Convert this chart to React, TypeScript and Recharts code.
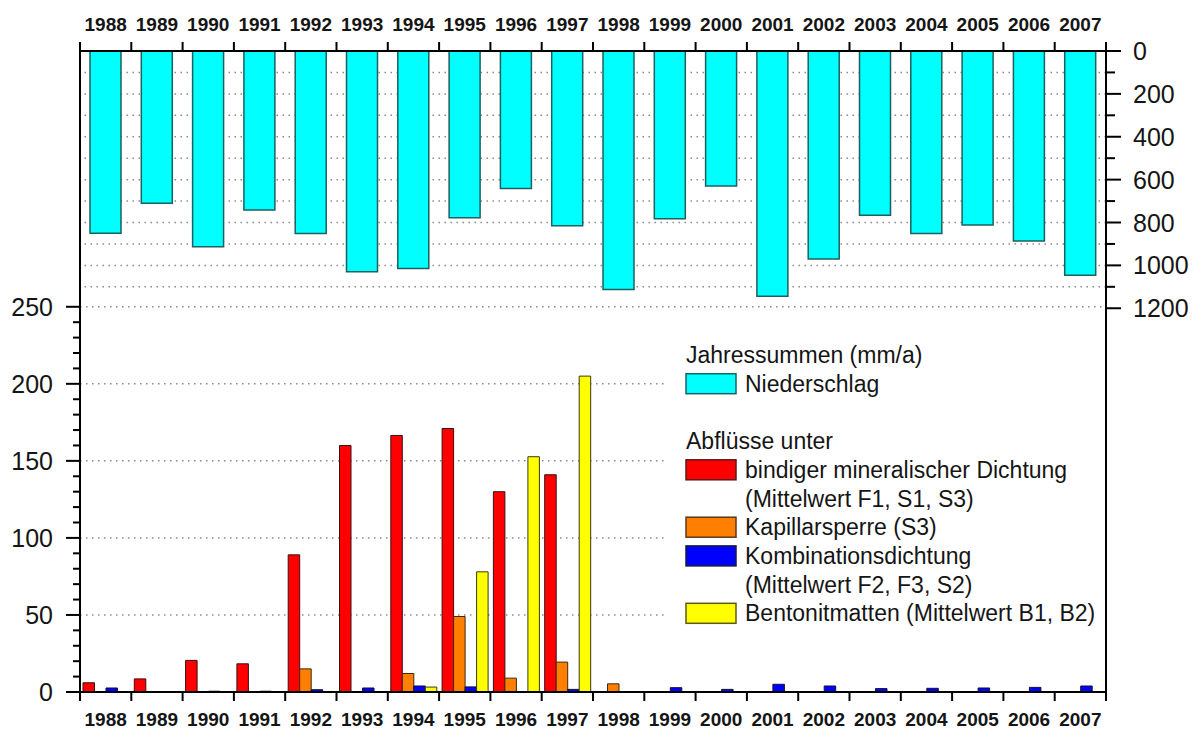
import { Bar, BarChart, Legend, ReferenceLine, XAxis, YAxis } from "recharts"

const years = [
  "1988", "1989", "1990", "1991", "1992", "1993", "1994", "1995", "1996", "1997",
  "1998", "1999", "2000", "2001", "2002", "2003", "2004", "2005", "2006", "2007",
]

// Jahressummen Niederschlag (mm/a), rechte Achse
const niederschlag = [850, 710, 913, 742, 851, 1030, 1015, 778, 641, 815, 1113, 783, 630, 1144, 970, 766, 851, 812, 886, 1046]

// Abflüsse (mm/a), linke Achse
const bindig = [6, 8.5, 20.5, 18.3, 89, 160, 166.5, 171, 130, 141, 0, 0, 0, 0, 0, 0, 0, 0, 0, 0]
const kapillar = [0, 0, 0, 0, 15, 0, 12, 49, 9, 19.4, 5.3, 0, 0, 0, 0, 0, 0, 0, 0, 0]
const kombi = [2.6, 0, 0.5, 0.5, 1.5, 2.6, 3.9, 3.3, 0.3, 1.7, 0, 2.8, 1.7, 5, 3.9, 2.2, 2.4, 2.6, 3, 3.9]
const bentonit = [0, 0, 0, 0, 0, 0, 3.2, 78, 152.7, 205, 0, 0, 0, 0, 0, 0, 0, 0, 0, 0]

const leftTicks = [0, 10, 20, 30, 40, 50, 60, 70, 80, 90, 100, 110, 120, 130, 140, 150, 160, 170, 180, 190, 200, 210, 220, 230, 240, 250]
const rightTicks = [0, 100, 200, 300, 400, 500, 600, 700, 800, 900, 1000, 1100, 1200]
const leftGrid = [50, 100, 150, 200, 250]
const rightGrid = [100, 200, 300, 400, 500, 600, 700, 800, 900, 1000, 1100]

const data = years.map((year, i) => ({
  year,
  niederschlag: niederschlag[i],
  bindig: bindig[i],
  kapillar: kapillar[i],
  kombi: kombi[i],
  bentonit: bentonit[i],
}))

const W = 1200
const H = 729
const LEFT_W = 80
const RIGHT_W = 94
const TOP_H = 51
const BOTTOM_H = 37
const STEP = (W - LEFT_W - RIGHT_W) / years.length
const FONT = "'Liberation Sans', Arial, sans-serif"
const INK = "#151515"

function YearTick(props: any, dir: number) {
  const { x, y, payload, index } = props
  const left = x - STEP / 2
  const right = x + STEP / 2
  return (
    <g>
      <line x1={left} x2={left} y1={y} y2={y + dir * 9} stroke="#000" strokeWidth={2} />
      {index === years.length - 1 && (
        <line x1={right} x2={right} y1={y} y2={y + dir * 9} stroke="#000" strokeWidth={2} />
      )}
      <text
        x={x}
        y={y + dir * 27}
        textAnchor="middle"
        dominantBaseline="central"
        fontFamily={FONT}
        fontWeight="bold"
        fontSize={19}
        fill={INK}
      >
        {payload.value}
      </text>
    </g>
  )
}

const TopTick = (props: any) => YearTick(props, -1)
const BottomTick = (props: any) => YearTick(props, 1)

function LeftTick(props: any) {
  const { x, y, payload } = props
  const major = payload.value % 50 === 0
  return (
    <g>
      <line x1={x} x2={x - (major ? 14 : 7)} y1={y} y2={y} stroke="#000" strokeWidth={2} />
      {major && (
        <text x={x - 27} y={y} textAnchor="end" dominantBaseline="central" fontFamily={FONT} fontSize={25} fill={INK}>
          {payload.value}
        </text>
      )}
    </g>
  )
}

function RightTick(props: any) {
  const { x, y, payload } = props
  const major = payload.value % 200 === 0
  return (
    <g>
      <line x1={x} x2={x + (major ? 15 : 9)} y1={y} y2={y} stroke="#000" strokeWidth={2} />
      {major && (
        <text x={x + 27} y={y} textAnchor="start" dominantBaseline="central" fontFamily={FONT} fontSize={25} fill={INK}>
          {payload.value}
        </text>
      )}
    </g>
  )
}

const legendRows = [
  { text: "Jahressummen (mm/a)" },
  { text: "Niederschlag", color: "#00FFFF", stroke: "#1d6060" },
  { text: "" },
  { text: "Abflüsse unter" },
  { text: "bindiger mineralischer Dichtung", color: "#FF0000", stroke: "#5a1a1a" },
  { text: "(Mittelwert F1, S1, S3)", indent: true },
  { text: "Kapillarsperre (S3)", color: "#FF8000", stroke: "#5a3a1a" },
  { text: "Kombinationsdichtung", color: "#0000FF", stroke: "#1a1a40" },
  { text: "(Mittelwert F2, F3, S2)", indent: true },
  { text: "Bentonitmatten (Mittelwert B1, B2)", color: "#FFFF00", stroke: "#5a5a1a" },
]

function LegendBox() {
  return (
    <svg width={434} height={300}>
      {legendRows.map((row, i) => {
        const cy = 21 + i * 28.7
        const boxed = !!row.color || row.indent
        return (
          <g key={i}>
            {row.color && (
              <rect x={18} y={cy - 10} width={50} height={20} fill={row.color} stroke={row.stroke} strokeWidth={1.5} />
            )}
            <text
              x={boxed ? 77 : 18}
              y={cy}
              dominantBaseline="central"
              fontFamily={FONT}
              fontSize={23}
              fill={INK}
            >
              {row.text}
            </text>
          </g>
        )
      })}
    </svg>
  )
}

export default function App() {
  return (
    <div style={{ position: "absolute", left: 0, top: 0, width: W, height: H, background: "#fff" }}>
      <BarChart width={W} height={H} data={data} barGap={0} margin={{ top: 0, right: 0, bottom: 0, left: 0 }}>
        {leftGrid.map((v) => (
          <ReferenceLine
            key={"l" + v}
            xAxisId="bottom"
            yAxisId="left"
            y={v}
            stroke="#8a8a8a"
            strokeWidth={1.5}
            strokeDasharray="1.5 4.5"
            zIndex={-50}
          />
        ))}
        {rightGrid.map((v) => (
          <ReferenceLine
            key={"r" + v}
            xAxisId="top"
            yAxisId="right"
            y={v}
            stroke="#8a8a8a"
            strokeWidth={1.5}
            strokeDasharray="1.5 4.5"
            zIndex={-50}
          />
        ))}
        <Bar xAxisId="top" yAxisId="right" dataKey="niederschlag" name="Niederschlag" fill="#00FFFF" stroke="#1d6060" strokeWidth={1.5} barSize={31} isAnimationActive={false} />
        <Bar xAxisId="bottom" yAxisId="left" dataKey="bindig" fill="#FF0000" stroke="#3a1010" strokeWidth={1} barSize={11.5} isAnimationActive={false} />
        <Bar xAxisId="bottom" yAxisId="left" dataKey="kapillar" fill="#FF8000" stroke="#3a2a10" strokeWidth={1} barSize={11.5} isAnimationActive={false} />
        <Bar xAxisId="bottom" yAxisId="left" dataKey="kombi" fill="#0000FF" stroke="#10103a" strokeWidth={1} barSize={11.5} isAnimationActive={false} />
        <Bar xAxisId="bottom" yAxisId="left" dataKey="bentonit" fill="#FFFF00" stroke="#3a3a10" strokeWidth={1} barSize={11.5} isAnimationActive={false} />
        <XAxis
          xAxisId="top"
          orientation="top"
          dataKey="year"
          height={TOP_H}
          interval={0}
          tickSize={0}
          tickMargin={0}
          tickLine={false}
          axisLine={{ stroke: "#000", strokeWidth: 2 }}
          tick={TopTick}
        />
        <XAxis
          xAxisId="bottom"
          orientation="bottom"
          dataKey="year"
          height={BOTTOM_H}
          interval={0}
          tickSize={0}
          tickMargin={0}
          tickLine={false}
          axisLine={{ stroke: "#000", strokeWidth: 2 }}
          tick={BottomTick}
        />
        <YAxis
          yAxisId="left"
          orientation="left"
          width={LEFT_W}
          domain={[0, 416]}
          ticks={leftTicks}
          interval={0}
          tickSize={0}
          tickMargin={0}
          tickLine={false}
          axisLine={{ stroke: "#000", strokeWidth: 2 }}
          tick={LeftTick}
        />
        <YAxis
          yAxisId="right"
          orientation="right"
          width={RIGHT_W}
          domain={[0, 2990]}
          reversed
          ticks={rightTicks}
          interval={0}
          tickSize={0}
          tickMargin={0}
          tickLine={false}
          axisLine={{ stroke: "#000", strokeWidth: 2 }}
          tick={RightTick}
        />
        <Legend
          layout="horizontal"
          verticalAlign="middle"
          align="center"
          wrapperStyle={{ left: 668, top: 334, width: 434, height: 300, background: "#fff" }}
          content={() => <LegendBox />}
        />
      </BarChart>
    </div>
  )
}
